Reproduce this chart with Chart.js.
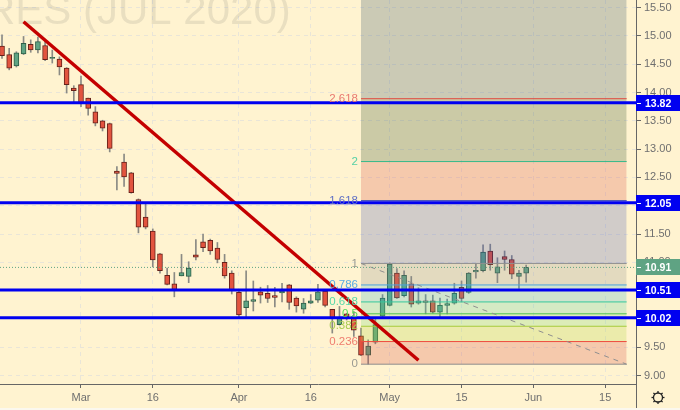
<!DOCTYPE html>
<html>
<head>
<meta charset="utf-8">
<style>
    html, body { margin: 0; padding: 0; background: #FFF3D0; }
    canvas { display: block; }
</style>
<script src="https://cdn.jsdelivr.net/npm/chart.js@4"></script>
</head>
<body>
<canvas id="priceChart" width="680" height="410"></canvas>
<script>
// Daily candles, bar numbers count trading days from 2 March
const firstBar = -11;
const opens = [14.82,14.67,14.47,14.68,14.85,14.75,14.83,14.60,14.59,14.43,14.08,14.14,13.90,13.66,13.50,13.45,12.61,12.77,12.58,12.11,11.80,11.55,11.15,10.77,10.62,10.76,10.75,11.13,11.36,11.39,11.25,11.00,10.81,10.47,10.20,10.31,10.48,10.45,10.41,10.46,10.60,10.37,10.17,10.28,10.33,10.49,10.17,9.90,10.09,10.01,9.70,9.36,9.59,10.05,10.24,10.81,10.41,10.62,10.28,10.32,10.32,10.12,10.24,10.28,10.56,10.47,10.83,10.85,11.20,10.81,11.10,11.05,10.75,10.81];
const highs = [15.02,14.78,14.72,14.99,14.93,14.98,14.90,14.75,14.63,14.44,14.12,14.29,13.90,13.75,13.51,13.46,12.69,12.91,12.59,12.12,12.03,11.59,11.16,10.90,10.82,11.14,11.01,11.40,11.50,11.41,11.35,11.14,10.85,10.51,10.85,10.67,10.56,10.59,10.56,10.63,10.61,10.39,10.36,10.43,10.61,10.50,10.17,10.22,10.10,10.13,9.84,9.63,10.00,10.43,10.99,10.89,10.85,10.75,10.55,10.43,10.42,10.37,10.35,10.63,10.67,10.82,10.97,11.31,11.32,11.08,11.20,11.12,10.86,10.95];
const lows = [14.60,14.40,14.45,14.67,14.71,14.70,14.56,14.52,14.31,13.99,13.83,13.75,13.60,13.41,13.32,12.95,12.28,12.34,12.22,11.52,11.59,10.92,10.81,10.60,10.39,10.76,10.64,11.04,11.19,11.14,10.99,10.72,10.44,10.04,10.04,10.14,10.28,10.29,10.21,10.30,10.17,10.12,10.10,10.27,10.29,10.21,9.75,9.89,9.98,9.69,9.35,9.20,9.56,10.04,10.23,10.36,10.39,10.21,10.26,10.09,10.10,10.04,10.09,10.26,10.30,10.45,10.72,10.83,10.86,10.64,10.86,10.71,10.54,10.65];
const closes = [14.65,14.43,14.70,14.87,14.75,14.90,14.58,14.62,14.45,14.14,14.03,13.82,13.72,13.46,13.37,13.01,12.57,12.51,12.23,11.62,11.62,11.04,10.85,10.61,10.52,10.82,10.90,11.09,11.26,11.20,11.05,10.76,10.51,10.07,10.32,10.34,10.42,10.36,10.38,10.49,10.29,10.23,10.28,10.32,10.48,10.24,10.02,10.01,10.02,9.80,9.36,9.52,9.90,10.37,10.97,10.37,10.77,10.26,10.32,10.29,10.12,10.24,10.27,10.45,10.36,10.81,10.86,11.18,10.96,10.92,11.05,10.79,10.81,10.91];

const tickBars = [0, 10, 22, 32, 43, 53, 63, 73];
const tickLabels = ['Mar', '16', 'Apr', '16', 'May', '15', 'Jun', '15'];

const levelPrices = [13.82, 12.05, 10.51, 10.02];
const lastPrice = 10.91;

const fibRatios = ['0', '0.236', '0.382', '0.5', '0.618', '0.786', '1', '1.618', '2', '2.618'];
const fibPrices = [9.20, 9.60, 9.87, 10.09, 10.30, 10.60, 10.98, 12.09, 12.78, 13.89, 16.74];
const fibLineColors = ['#8f8f8f', '#ee4b3e', '#a8cc3c', '#4fc34f', '#35c79a', '#4aa3df', '#8f8f8f', '#3f4fb5', '#35b98a', '#e0483e'];
const fibLabelColors = ['#9a9a92', '#ef7d6f', '#a9cc50', '#58dd58', '#58d8a8', '#5aaae2', '#9a9a92', '#6070c4', '#55d0a5', '#e97a70'];
const fibZoneColors = [
    'rgba(213,68,58,.24)', 'rgba(172,210,54,.24)', 'rgba(109,214,108,.24)', 'rgba(80,205,158,.24)',
    'rgba(59,180,200,.24)', 'rgba(136,136,136,.24)', 'rgba(63,81,181,.24)', 'rgba(213,68,58,.24)',
    'rgba(38,72,33,.24)', 'rgba(38,72,96,.24)'
];
const fibStart = 39, fibEnd = 76;

const trendBars = [-8, 47];
const trendPrices = [15.25, 9.27];

const bg = '#FFF3D0';
const minBar = -11.28, maxBar = 77.3;

const barNumbers = opens.map((o, i) => firstBar + i);
const isUp = opens.map((o, i) => closes[i] >= o);

const datasets = [];

datasets.push({
    type: 'bar',
    data: barNumbers.map((b, i) => ({ x: b, y: [lows[i], highs[i]] })),
    backgroundColor: '#8a8a84',
    barThickness: 1,
    grouped: false,
    order: 20
});
datasets.push({
    type: 'bar',
    data: barNumbers.map((b, i) => ({ x: b, y: [opens[i], closes[i]] })),
    backgroundColor: isUp.map(u => u ? '#5FA383' : '#E2543F'),
    borderColor: isUp.map(u => u ? '#2F5F48' : '#66211A'),
    borderWidth: 1,
    borderSkipped: false,
    barThickness: 5,
    grouped: false,
    order: 19
});

// fib zones go over the candles
fibRatios.forEach((r, i) => {
    datasets.push({
        type: 'line',
        data: [{ x: fibStart, y: fibPrices[i] }, { x: fibEnd, y: fibPrices[i] }],
        borderColor: fibLineColors[i],
        borderWidth: 1,
        backgroundColor: fibZoneColors[i],
        fill: { value: fibPrices[i + 1] },
        pointRadius: 0,
        order: 18 - i
    });
});

datasets.push({
    type: 'line',
    data: [{ x: fibStart, y: fibPrices[6] }, { x: fibEnd, y: fibPrices[0] }],
    borderColor: '#8f8f8f',
    borderWidth: 1,
    borderDash: [5, 5],
    pointRadius: 0,
    order: 7
});
datasets.push({
    type: 'line',
    data: [{ x: minBar, y: lastPrice }, { x: maxBar, y: lastPrice }],
    borderColor: '#5FA383',
    borderWidth: 1,
    borderDash: [1, 2],
    pointRadius: 0,
    order: 6
});
datasets.push({
    type: 'line',
    data: trendBars.map((b, i) => ({ x: b, y: trendPrices[i] })),
    borderColor: '#C40000',
    borderWidth: 3.5,
    pointRadius: 0,
    order: 5
});
levelPrices.forEach(p => {
    datasets.push({
        type: 'line',
        data: [{ x: minBar, y: p }, { x: maxBar, y: p }],
        borderColor: '#0000F0',
        borderWidth: 3,
        pointRadius: 0,
        order: 1
    });
});

const uiFont = '"Liberation Sans", Arial, sans-serif';

const decorPlugin = {
    id: 'decor',
    beforeDraw(chart) {
        const ctx = chart.ctx;
        ctx.save();
        ctx.fillStyle = bg;
        ctx.fillRect(0, 0, chart.width, chart.height);
        ctx.restore();
    },
    beforeDatasetsDraw(chart) {
        // symbol watermark, cut off by the top and left edge
        const ctx = chart.ctx;
        ctx.save();
        ctx.font = '42px ' + uiFont;
        ctx.fillStyle = 'rgba(120,120,110,.16)';
        ctx.textBaseline = 'alphabetic';
        ctx.fillText('RES (JUL 2020)', -15, 24);
        ctx.restore();
    },
    afterDatasetsDraw(chart) {
        const ctx = chart.ctx;
        const { x, y } = chart.scales;
        ctx.save();
        ctx.font = '11.5px ' + uiFont;
        ctx.textAlign = 'right';
        ctx.textBaseline = 'middle';
        fibRatios.forEach((r, i) => {
            ctx.fillStyle = fibLabelColors[i];
            ctx.fillText(r, x.getPixelForValue(fibStart) - 3, y.getPixelForValue(fibPrices[i]));
        });
        ctx.restore();
    },
    afterDraw(chart) {
        const ctx = chart.ctx;
        const { y, x } = chart.scales;
        const right = x.right;
        ctx.save();
        ctx.strokeStyle = '#666';
        ctx.beginPath();
        ctx.moveTo(right + 0.5, y.bottom);
        ctx.lineTo(right + 0.5, chart.height - 2);
        ctx.stroke();

        const tag = (price, color) => {
            const py = Math.round(y.getPixelForValue(price));
            ctx.fillStyle = color;
            ctx.fillRect(right, py - 8, chart.width - right, 16);
            ctx.fillStyle = '#fff';
            ctx.fillRect(right + 1, py, 4, 1);
            ctx.font = 'bold 10.5px ' + uiFont;
            ctx.textAlign = 'left';
            ctx.textBaseline = 'middle';
            ctx.fillText(price.toFixed(2), right + 9, py + 1);
        };
        tag(lastPrice, '#5FA383');
        levelPrices.forEach(p => tag(p, '#0000F0'));

        // settings gear
        const cx = 658, cy = 397.5;
        ctx.strokeStyle = '#222';
        ctx.lineWidth = 1.3;
        ctx.beginPath();
        ctx.arc(cx, cy, 4.5, 0, Math.PI * 2);
        ctx.stroke();
        for (let i = 0; i < 8; i++) {
            const a = i * Math.PI / 4;
            ctx.beginPath();
            ctx.moveTo(cx + Math.cos(a) * 4.5, cy + Math.sin(a) * 4.5);
            ctx.lineTo(cx + Math.cos(a) * 6.5, cy + Math.sin(a) * 6.5);
            ctx.stroke();
        }

        // light strip along the bottom edge
        ctx.fillStyle = '#FBF8EE';
        ctx.fillRect(0, chart.height - 2, chart.width, 2);
        ctx.restore();
    }
};

new Chart('priceChart', {
    data: { datasets: datasets },
    plugins: [decorPlugin],
    options: {
        responsive: false,
        animation: false,
        events: [],
        layout: { padding: 0 },
        plugins: {
            legend: { display: false },
            title: { display: false },
            tooltip: { enabled: false }
        },
        scales: {
            x: {
                type: 'linear',
                position: 'bottom',
                offset: false,
                min: minBar,
                max: maxBar,
                afterBuildTicks: scale => {
                    scale.ticks = tickBars.map(v => ({ value: v }));
                },
                afterFit: scale => {
                    scale.height = 26;
                    scale.paddingLeft = 0;
                    scale.paddingRight = 0;
                },
                grid: {
                    offset: false,
                    color: '#E9E5D8',
                    tickColor: '#666',
                    tickLength: 4,
                    tickBorderDash: []
                },
                border: { color: '#666', dash: [4, 4] },
                ticks: {
                    autoSkip: false,
                    maxRotation: 0,
                    padding: 3,
                    color: '#6f6f6f',
                    font: { family: uiFont, size: 11 },
                    callback: value => tickLabels[tickBars.indexOf(value)]
                }
            },
            y: {
                type: 'linear',
                position: 'right',
                min: 8.85,
                max: 15.634,
                afterFit: scale => {
                    scale.width = 44;
                    scale.paddingTop = 0;
                    scale.paddingBottom = 0;
                },
                grid: {
                    color: '#E9E5D8',
                    tickColor: '#666',
                    tickLength: 5,
                    tickBorderDash: []
                },
                border: { color: '#666', dash: [4, 4] },
                ticks: {
                    stepSize: 0.5,
                    includeBounds: false,
                    padding: 3,
                    color: '#6f6f6f',
                    font: { family: uiFont, size: 11 },
                    callback: value => value.toFixed(2)
                }
            }
        }
    }
});
</script>
</body>
</html>
